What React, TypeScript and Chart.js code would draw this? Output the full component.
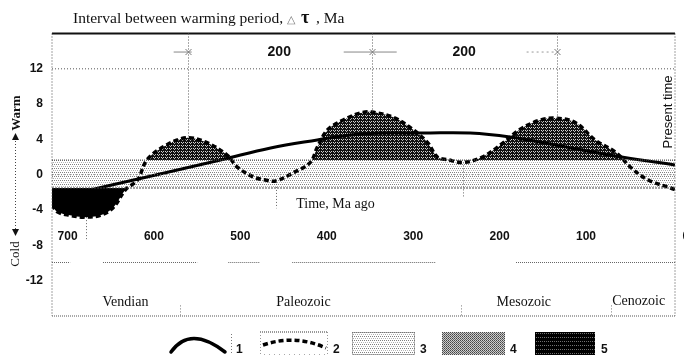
import React, { useEffect, useRef } from 'react';
import { Chart, registerables } from 'chart.js';
Chart.register(...registerables);

// ---- data ----
const xTicks = [700, 600, 500, 400, 300, 200, 100, 0];
const yTicks = [12, 8, 4, 0, -4, -8, -12];

// curve 2 (dashed): temperature anomaly outline, Ma ago
const tempAges = [718, 712, 697, 682, 662, 647, 633, 619, 608, 585, 561, 538, 515, 504, 485, 471, 459, 439, 419, 411, 399, 381, 361, 348, 323, 300, 283, 272, 260, 242, 220, 196, 177, 153, 134, 112, 89, 65, 48, 28, 2, -3];
const tempValues = [-3.4, -4.2, -4.6, -4.8, -4.6, -3.7, -1.7, -0.6, 1.7, 3.4, 4.2, 3.6, 2.2, 0.9, -0.25, -0.6, -0.7, 0.2, 1.4, 3.1, 5.1, 6.2, 7.0, 7.1, 6.5, 5.1, 3.6, 2.0, 1.7, 1.4, 2.0, 3.6, 5.1, 6.2, 6.4, 5.9, 3.9, 2.5, 0.8, -0.6, -1.5, -1.7];

// curve 1 (solid)
const trendAges = [718, 654, 593, 523, 465, 411, 373, 338, 289, 234, 188, 129, 65, 2, -3];
const trendValues = [-2.75, -1.27, 0.09, 1.67, 3.03, 3.94, 4.5, 4.73, 4.73, 4.73, 4.28, 3.26, 2.1, 1.2, 1.1];

// band 3
const bandTop = 1.67;
const bandBottom = -1.5;

// warming peaks and interval labels
const peakAges = [561, 348, 134];
const peakValues = [4.2, 7.1, 6.4];
const intervalAges = [455, 241];
const intervalLabels = ['200', '200'];

// lower guide marks
const lowMarkAges = [679, 459, 242];
const lowMarkFrom = [-4.8, -0.7, 1.4];
const lowMarkTo = [-7.4, -3.8, -2.6];

// eras
const eraNames = ['Vendian', 'Paleozoic', 'Mesozoic', 'Cenozoic'];
const eraCenters = [633, 427, 172, 39];
const eraBoundaries = [570, 245, 71];

// broken dotted line at about -10
const guideStarts = [718, 659, 514, 440, 181];
const guideEnds = [697, 550, 477, 274, -3];

const SANS = '"Liberation Sans", Arial, sans-serif';
const SERIF = '"Liberation Serif", "Times New Roman", serif';

function makePattern(kind: string): CanvasPattern | string {
  const c = document.createElement('canvas');
  const g = c.getContext('2d');
  if (!g) return '#888';
  const px = (x: number, y: number, col: string) => { g.fillStyle = col; g.fillRect(x, y, 1, 1); };
  if (kind === 'hump') {
    c.width = 4; c.height = 3;
    g.fillStyle = '#111111'; g.fillRect(0, 0, 4, 3);
    px(1, 1, '#d8d8d8'); px(3, 1, '#d0d0d0'); px(2, 2, '#b8b8b8');
  } else if (kind === 'band') {
    c.width = 4; c.height = 4;
    g.fillStyle = '#ffffff'; g.fillRect(0, 0, 4, 4);
    px(0, 0, '#808080'); px(2, 0, '#808080'); px(1, 2, '#aaaaaa'); px(3, 2, '#bbbbbb');
  } else if (kind === 'mid') {
    c.width = 2; c.height = 2;
    px(0, 0, '#444'); px(1, 0, '#d0d0d0'); px(0, 1, '#c8c8c8'); px(1, 1, '#666');
  } else {
    c.width = 4; c.height = 4;
    g.fillStyle = '#000'; g.fillRect(0, 0, 4, 4);
    px(0, 1, '#777'); px(2, 1, '#666');
  }
  const p = g.createPattern(c, 'repeat');
  return p || '#888';
}

function line(ctx: CanvasRenderingContext2D, x1: number, y1: number, x2: number, y2: number, color: string, w: number, dash: number[]) {
  ctx.save();
  ctx.strokeStyle = color;
  ctx.lineWidth = w;
  ctx.setLineDash(dash);
  ctx.beginPath();
  ctx.moveTo(x1, y1);
  ctx.lineTo(x2, y2);
  ctx.stroke();
  ctx.restore();
}

export default function App() {
  const ref = useRef<HTMLCanvasElement | null>(null);

  useEffect(() => {
    const canvas = ref.current;
    if (!canvas) return;
    const humpPat = makePattern('hump');
    const bandPat = makePattern('band');
    const midPat = makePattern('mid');
    const darkPat = makePattern('dark');

    const tempData = tempAges.map((a, i) => ({ x: a, y: tempValues[i] }));
    const trendData = trendAges.map((a, i) => ({ x: a, y: trendValues[i] }));
    const bandData = [{ x: 718, y: bandTop }, { x: -3, y: bandTop }];

    const decor = {
      id: 'decor',
      afterDatasetsDraw(chart: any) {
        const { ctx, chartArea: ca, scales } = chart;
        const x = scales.x, y = scales.y;
        const L = ca.left, R = ca.right, T = ca.top, B = ca.bottom;
        // band edges and zero line
        line(ctx, L, y.getPixelForValue(bandTop), R, y.getPixelForValue(bandTop), '#555', 1, [1, 1]);
        line(ctx, L, y.getPixelForValue(0), R, y.getPixelForValue(0), '#777', 1, [1, 2]);
        line(ctx, L, y.getPixelForValue(bandBottom), R, y.getPixelForValue(bandBottom), '#444', 1, [2, 1]);
        // 12 grid line
        line(ctx, L, y.getPixelForValue(12), R, y.getPixelForValue(12), '#555', 1, [1, 2]);
        // frame
        line(ctx, L, T, R, T, '#111', 2, []);
        line(ctx, L, T, L, B, '#444', 1, [1, 2]);
        line(ctx, R, T, R, B, '#444', 1, [1, 2]);
        line(ctx, L, B, R, B, '#555', 1, [1, 1]);
        // peak markers
        const yInt = y.getPixelForValue(13.9);
        peakAges.forEach((a, i) => {
          const px = Math.round(x.getPixelForValue(a)) + 0.5;
          line(ctx, px, T, px, y.getPixelForValue(peakValues[i]), '#555', 1, [1, 2]);
          line(ctx, px - 3, yInt - 3, px + 3, yInt + 3, '#777', 1, []);
          line(ctx, px - 3, yInt + 3, px + 3, yInt - 3, '#777', 1, []);
        });
        // interval arrows
        const p0 = x.getPixelForValue(peakAges[0]);
        const p1 = x.getPixelForValue(peakAges[1]);
        const p2 = x.getPixelForValue(peakAges[2]);
        line(ctx, p0 - 14, yInt, p0 + 4, yInt, '#888', 1, []);
        line(ctx, p1 - 28, yInt, p1 + 25, yInt, '#888', 1, []);
        line(ctx, p2 - 30, yInt, p2, yInt, '#999', 1, [2, 3]);
        // lower markers
        lowMarkAges.forEach((a, i) => {
          const px = Math.round(x.getPixelForValue(a)) + 0.5;
          line(ctx, px, y.getPixelForValue(lowMarkFrom[i]), px, y.getPixelForValue(lowMarkTo[i]), '#666', 1, [1, 2]);
        });
        // broken guide line
        const gy = Math.round(y.getPixelForValue(-9.9)) + 0.5;
        guideStarts.forEach((s, i) => {
          line(ctx, x.getPixelForValue(s), gy, x.getPixelForValue(guideEnds[i]), gy, '#666', 1, [1, 1]);
        });
        // era boundaries
        eraBoundaries.forEach((a) => {
          const px = Math.round(x.getPixelForValue(a)) + 0.5;
          line(ctx, px, y.getPixelForValue(-14.8), px, B, '#777', 1, [1, 2]);
        });
      },
      afterDraw(chart: any) {
        const { ctx, scales } = chart;
        const x = scales.x, y = scales.y;
        ctx.save();
        ctx.fillStyle = '#111';
        // title
        ctx.textBaseline = 'middle';
        ctx.textAlign = 'left';
        ctx.font = `15.5px ${SERIF}`;
        let tx = 73;
        const t1 = 'Interval between warming period, ';
        ctx.fillText(t1, tx, 19);
        tx += ctx.measureText(t1).width;
        ctx.font = `11px ${SANS}`;
        ctx.fillStyle = '#777';
        ctx.fillText('\u25B3', tx, 20);
        tx += ctx.measureText('\u25B3').width + 6;
        ctx.fillStyle = '#111';
        ctx.font = `bold 18px ${SERIF}`;
        ctx.fillText('\u03C4', tx, 18);
        tx += ctx.measureText('\u03C4').width + 3;
        ctx.font = `15.5px ${SERIF}`;
        ctx.fillText(' , Ma', tx, 19);

        // interval labels
        ctx.textAlign = 'center';
        ctx.font = `bold 14px ${SANS}`;
        intervalAges.forEach((a, i) => {
          ctx.fillText(intervalLabels[i], x.getPixelForValue(a), y.getPixelForValue(13.9));
        });

        // x tick labels inside the plot
        const ty = y.getPixelForValue(-7.05);
        ctx.font = `bold 12px ${SANS}`;
        xTicks.forEach((v) => {
          if (v === 0) {
            ctx.textAlign = 'left';
            ctx.fillText(String(v), x.getPixelForValue(v) + 10, ty);
            ctx.textAlign = 'center';
          } else {
            ctx.fillText(String(v), x.getPixelForValue(v), ty);
          }
        });

        // axis title
        ctx.font = `14px ${SERIF}`;
        ctx.fillText('Time, Ma ago', x.getPixelForValue(390), y.getPixelForValue(-3.4));

        // era names
        ctx.font = `14px ${SERIF}`;
        eraNames.forEach((n, i) => {
          ctx.fillText(n, x.getPixelForValue(eraCenters[i]), y.getPixelForValue(n === 'Cenozoic' ? -14.3 : -14.5));
        });

        // Present time
        ctx.save();
        ctx.translate(x.getPixelForValue(0) - 4, 112);
        ctx.rotate(-Math.PI / 2);
        ctx.font = `13px ${SANS}`;
        ctx.fillText('Present time', 0, 0);
        ctx.restore();

        // Warm / Cold
        ctx.save();
        ctx.translate(17, 113);
        ctx.rotate(-Math.PI / 2);
        ctx.font = `bold 13px ${SERIF}`;
        ctx.fillText('Warm', 0, 0);
        ctx.restore();
        ctx.save();
        ctx.translate(16, 254);
        ctx.rotate(-Math.PI / 2);
        ctx.font = `13px ${SERIF}`;
        ctx.fillText('Cold', 0, 0);
        ctx.restore();
        line(ctx, 15.5, 138, 15.5, 230, '#444', 1, [1, 2]);
        ctx.beginPath();
        ctx.moveTo(15.5, 133); ctx.lineTo(12, 140); ctx.lineTo(19, 140); ctx.closePath(); ctx.fill();
        ctx.beginPath();
        ctx.moveTo(15.5, 236); ctx.lineTo(12, 229); ctx.lineTo(19, 229); ctx.closePath(); ctx.fill();

        // legend
        const lt = 332, lb = 355;
        ctx.font = `bold 12px ${SANS}`;
        ctx.textAlign = 'left';
        // 1
        ctx.save();
        ctx.strokeStyle = '#000'; ctx.lineWidth = 3.5; ctx.lineCap = 'round';
        ctx.beginPath(); ctx.moveTo(171, 352); ctx.quadraticCurveTo(190, 325, 225, 352); ctx.stroke();
        ctx.restore();
        line(ctx, 231.5, 334, 231.5, lb, '#777', 1, [1, 2]);
        ctx.fillText('1', 236, 350);
        // 2
        line(ctx, 260, lt, 328, lt, '#333', 1, [1, 1]);
        line(ctx, 260.5, lt, 260.5, lb, '#999', 1, [1, 2]);
        line(ctx, 327.5, lt, 327.5, lb, '#999', 1, [1, 2]);
        line(ctx, 264, lb - 0.5, 328, lb - 0.5, '#aaa', 1, [1, 4]);
        ctx.save();
        ctx.strokeStyle = '#000'; ctx.lineWidth = 3.5; ctx.setLineDash([5, 3]);
        ctx.beginPath(); ctx.moveTo(263, 345); ctx.quadraticCurveTo(295, 334, 326, 348); ctx.stroke();
        ctx.restore();
        ctx.fillText('2', 333, 350);
        // 3
        ctx.fillStyle = bandPat as any; ctx.fillRect(352, lt, 63, lb - lt);
        ctx.strokeStyle = '#666'; ctx.setLineDash([1, 1]); ctx.lineWidth = 1;
        ctx.strokeRect(352.5, lt + 0.5, 62, lb - lt - 1); ctx.setLineDash([]);
        ctx.fillStyle = '#111'; ctx.fillText('3', 420, 350);
        // 4
        ctx.fillStyle = midPat as any; ctx.fillRect(442, lt, 63, lb - lt);
        ctx.fillStyle = '#111'; ctx.fillText('4', 510, 350);
        // 5
        ctx.fillStyle = darkPat as any; ctx.fillRect(535, lt, 60, lb - lt);
        ctx.fillStyle = '#111'; ctx.fillText('5', 601, 350);
        ctx.restore();
      },
    };

    const chart = new Chart(canvas, {
      type: 'line',
      data: {
        datasets: [
          {
            label: 'band',
            data: bandData,
            borderWidth: 0,
            pointRadius: 0,
            backgroundColor: bandPat as any,
            fill: { value: bandBottom } as any,
            order: 5,
          },
          {
            label: 'warm',
            data: tempData,
            borderWidth: 0,
            borderColor: 'rgba(0,0,0,0)',
            pointRadius: 0,
            tension: 0.35,
            fill: { target: { value: bandTop }, above: humpPat, below: 'rgba(0,0,0,0)' } as any,
            order: 4,
          },
          {
            label: 'cold',
            data: tempData,
            borderWidth: 0,
            borderColor: 'rgba(0,0,0,0)',
            pointRadius: 0,
            tension: 0.35,
            fill: { target: { value: bandBottom }, above: 'rgba(0,0,0,0)', below: '#000' } as any,
            order: 3,
          },
          {
            label: '1',
            data: trendData,
            borderColor: '#000',
            borderWidth: 3,
            pointRadius: 0,
            tension: 0.4,
            fill: false,
            order: 2,
          },
          {
            label: '2',
            data: tempData,
            borderColor: '#000',
            borderWidth: 3.5,
            borderDash: [5, 3],
            pointRadius: 0,
            tension: 0.35,
            fill: false,
            order: 1,
          },
        ],
      },
      options: {
        responsive: false,
        animation: false,
        layout: { padding: { left: 0, right: 9, top: 33.5, bottom: 43 } },
        plugins: { legend: { display: false }, tooltip: { enabled: false } },
        scales: {
          x: {
            type: 'linear',
            reverse: true,
            min: -3,
            max: 718,
            display: false,
          },
          y: {
            type: 'linear',
            min: -16,
            max: 16,
            grid: { display: false, drawTicks: false },
            border: { display: false },
            afterFit: (s: any) => { s.width = 52; },
            afterBuildTicks: (s: any) => { s.ticks = yTicks.map((v) => ({ value: v })); },
            ticks: {
              padding: 9,
              color: '#111',
              font: { family: SANS, size: 12, weight: 'bold' },
              callback: (v: any) => String(v),
            },
          },
        },
      },
      plugins: [decor],
    });
    return () => chart.destroy();
  }, []);

  return (
    <div style={{ position: 'fixed', left: 0, top: 0, width: 684, height: 359, background: '#fff' }}>
      <canvas ref={ref} width={684} height={359} style={{ display: 'block' }} />
    </div>
  );
}
